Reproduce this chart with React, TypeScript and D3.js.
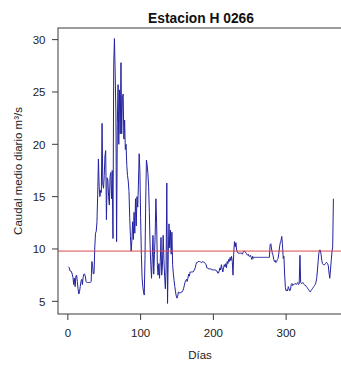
import React from "react";
import * as d3 from "d3";

// Daily mean discharge (m³/s), one value per day of the year, in chunks
const flowDays001to037 = [
  8.3, 8.2, 7.9, 7.9, 7.8, 7.6, 7.3, 6.6, 7.2, 6.4,
  7.4, 7.5, 6.9, 6.2, 5.7, 5.9, 6.4, 6.9, 7.1, 6.6,
  7.3, 7.6, 7.6, 7.4, 6.9, 6.8, 6.8, 6.8, 6.8, 6.8,
  6.8, 6.9, 8.8, 8.4, 7.6, 7.7, 10.2,
];
const flowDays038to060 = [
  11.5, 11.7, 12.6, 15.2, 18.6, 16.0, 15.0, 15.6, 15.4, 22.0,
  16.2, 15.8, 17.0, 18.9, 19.4, 12.8, 16.8, 16.6, 15.0, 14.2,
  16.9, 17.3, 14.8,
];
const flowDays061to100 = [
  17.5, 11.0, 27.5, 30.1, 27.0, 23.0, 10.7, 22.0, 25.7, 20.0,
  25.2, 21.0, 27.8, 21.0, 24.5, 24.8, 20.5, 22.3, 19.5, 20.0,
  18.0, 17.0, 16.5, 15.5, 13.0, 11.2, 9.8, 10.8, 12.6, 10.9,
  13.5, 11.5, 14.8, 12.2, 15.0, 14.0, 16.2, 19.1, 17.5, 13.0,
];
const flowDays101to150 = [
  9.5, 7.3, 6.4, 5.9, 5.6, 9.0, 14.5, 18.5, 18.0, 17.2,
  16.0, 13.5, 10.4, 8.5, 7.2, 9.2, 11.3, 7.6, 9.5, 11.3,
  14.8, 12.5, 8.5, 7.5, 8.6, 7.2, 8.8, 11.1, 7.5, 8.4,
  11.3, 9.0, 7.4, 6.2, 8.2, 16.3, 4.8, 9.5, 12.4, 10.1,
  11.8, 9.5, 11.6, 8.5, 7.6, 7.0, 6.4, 5.9, 5.5, 5.3,
];
const flowDays151to230 = [
  5.5, 5.9, 5.8, 5.8, 5.8, 5.9, 5.9, 6.0, 6.2, 6.5,
  6.8, 7.0, 7.1, 6.9, 7.2, 7.6, 7.4, 7.8, 7.8, 7.8,
  7.8, 7.8, 7.9, 8.0, 8.2, 8.5, 8.7, 8.7, 8.8, 8.8,
  8.8, 8.8, 8.7, 8.7, 8.8, 8.8, 8.7, 8.7, 8.6, 8.5,
  8.2, 8.2, 8.1, 8.1, 8.1, 8.1, 8.1, 8.0, 8.0, 8.0,
  8.0, 8.0, 8.0, 7.9, 7.9, 7.7, 7.7, 7.9, 8.2, 8.0,
  8.5, 8.1, 7.8, 8.2, 8.5, 8.3, 8.6, 8.2, 8.8, 8.6,
  9.0, 8.8, 9.2, 8.9, 9.3, 8.8, 7.5, 9.6, 10.7, 10.2,
];
const flowDays231to300 = [
  10.6, 9.9, 9.7, 9.6, 9.6, 9.6, 9.6, 9.6, 9.6, 9.5,
  9.7, 9.8, 9.8, 9.7, 9.6, 9.5, 9.4, 9.5, 9.3, 9.3,
  9.4, 9.2, 9.0, 9.3, 9.1, 9.2, 9.2, 9.2, 9.2, 9.2,
  9.2, 9.2, 9.2, 9.2, 9.2, 9.2, 9.2, 9.2, 9.2, 9.2,
  9.2, 9.2, 9.2, 9.2, 9.2, 9.2, 9.2, 10.4, 10.5, 10.0,
  9.6, 9.4, 9.0, 8.8, 8.9, 8.7, 8.8, 9.0, 9.1, 9.6,
  10.2, 10.6, 10.8, 11.2, 10.4, 9.1, 9.3, 7.5, 6.3, 6.0,
];
const flowDays301to365 = [
  6.1, 6.0, 6.4, 6.2, 6.0, 6.1, 6.6, 6.7, 6.5, 6.6,
  6.6, 6.7, 6.7, 6.6, 6.7, 6.8, 6.6, 6.7, 9.4, 6.8,
  6.7, 6.7, 6.8, 6.7, 6.6, 6.5, 6.5, 6.4, 6.3, 6.2,
  6.1, 6.0, 5.9, 6.0, 6.1, 6.2, 6.3, 6.4, 6.5, 6.6,
  6.8, 7.2, 7.9, 8.8, 9.6, 9.9, 9.9, 9.5, 8.9, 8.6,
  8.5, 8.5, 8.5, 8.6, 8.7, 8.7, 8.6, 8.4, 7.7, 7.2,
  8.0, 8.9, 9.7, 10.2, 14.8,
];

const dailyFlow = [
  ...flowDays001to037,
  ...flowDays038to060,
  ...flowDays061to100,
  ...flowDays101to150,
  ...flowDays151to230,
  ...flowDays231to300,
  ...flowDays301to365,
];

// Reference level drawn as a horizontal line
const meanFlow = 9.8;

const xTicks = [0, 100, 200, 300];
const yTicks = [5, 10, 15, 20, 25, 30];

const titleText = "Estacion H 0266";
const xLabel = "Días";
const yLabel = "Caudal medio diario m³/s";

const W = 341;
const H = 368;
const margin = { left: 58, top: 28, right: 344, bottom: 314 };
const font = "'Liberation Sans', Arial, sans-serif";

// 4% padding on each side of the data range
function padded(lo: number, hi: number): [number, number] {
  const p = (hi - lo) * 0.04;
  return [lo - p, hi + p];
}

export default function App() {
  const days = dailyFlow.map((_, i) => i + 1);
  const x = d3
    .scaleLinear()
    .domain(padded(1, dailyFlow.length))
    .range([margin.left, margin.right]);
  const [minV, maxV] = d3.extent(dailyFlow) as [number, number];
  const y = d3
    .scaleLinear()
    .domain(padded(minV, maxV))
    .range([margin.bottom, margin.top]);

  const line = d3
    .line<number>()
    .x((_, i) => x(days[i]))
    .y((v) => y(v));

  const axisColor = "#3a3a3a";
  const tickLen = 6;

  return (
    <svg
      width={W}
      height={H}
      style={{ position: "absolute", left: 0, top: 0, background: "#fff" }}
    >
      <rect x={0} y={0} width={W} height={H} fill="#fff" />
      <text
        x={(margin.left + margin.right) / 2}
        y={22.5}
        textAnchor="middle"
        fontFamily={font}
        fontWeight="bold"
        fontSize={13.8}
        fill="#111"
      >
        {titleText}
      </text>

      <path
        d={line(dailyFlow) ?? ""}
        fill="none"
        stroke="#2323a0"
        strokeWidth={1}
        strokeLinejoin="round"
      />

      <line
        x1={margin.left}
        x2={margin.right}
        y1={y(meanFlow)}
        y2={y(meanFlow)}
        stroke="#e0474c"
        strokeWidth={1}
      />

      <rect
        x={margin.left}
        y={margin.top}
        width={margin.right - margin.left}
        height={margin.bottom - margin.top}
        fill="none"
        stroke={axisColor}
        strokeWidth={1}
      />

      {/* y axis */}
      {yTicks.map((t) => (
        <g key={`y${t}`}>
          <line
            x1={margin.left - tickLen}
            x2={margin.left}
            y1={y(t)}
            y2={y(t)}
            stroke={axisColor}
          />
          <text
            x={margin.left - 12.5}
            y={y(t) + 4.2}
            textAnchor="end"
            fontFamily={font}
            fontSize={11.5}
            fill="#222"
          >
            {t}
          </text>
        </g>
      ))}

      {/* x axis */}
      {xTicks.map((t) => (
        <g key={`x${t}`}>
          <line
            x1={x(t)}
            x2={x(t)}
            y1={margin.bottom}
            y2={margin.bottom + tickLen}
            stroke={axisColor}
          />
          <text
            x={x(t)}
            y={337}
            textAnchor="middle"
            fontFamily={font}
            fontSize={11.5}
            fill="#222"
          >
            {t}
          </text>
        </g>
      ))}

      <text
        x={200}
        y={359}
        textAnchor="middle"
        fontFamily={font}
        fontSize={11.5}
        fill="#222"
      >
        {xLabel}
      </text>
      <text
        transform={`translate(21.5, ${(margin.top + margin.bottom) / 2}) rotate(-90)`}
        textAnchor="middle"
        fontFamily={font}
        fontSize={11.5}
        fill="#222"
      >
        {yLabel}
      </text>
    </svg>
  );
}
